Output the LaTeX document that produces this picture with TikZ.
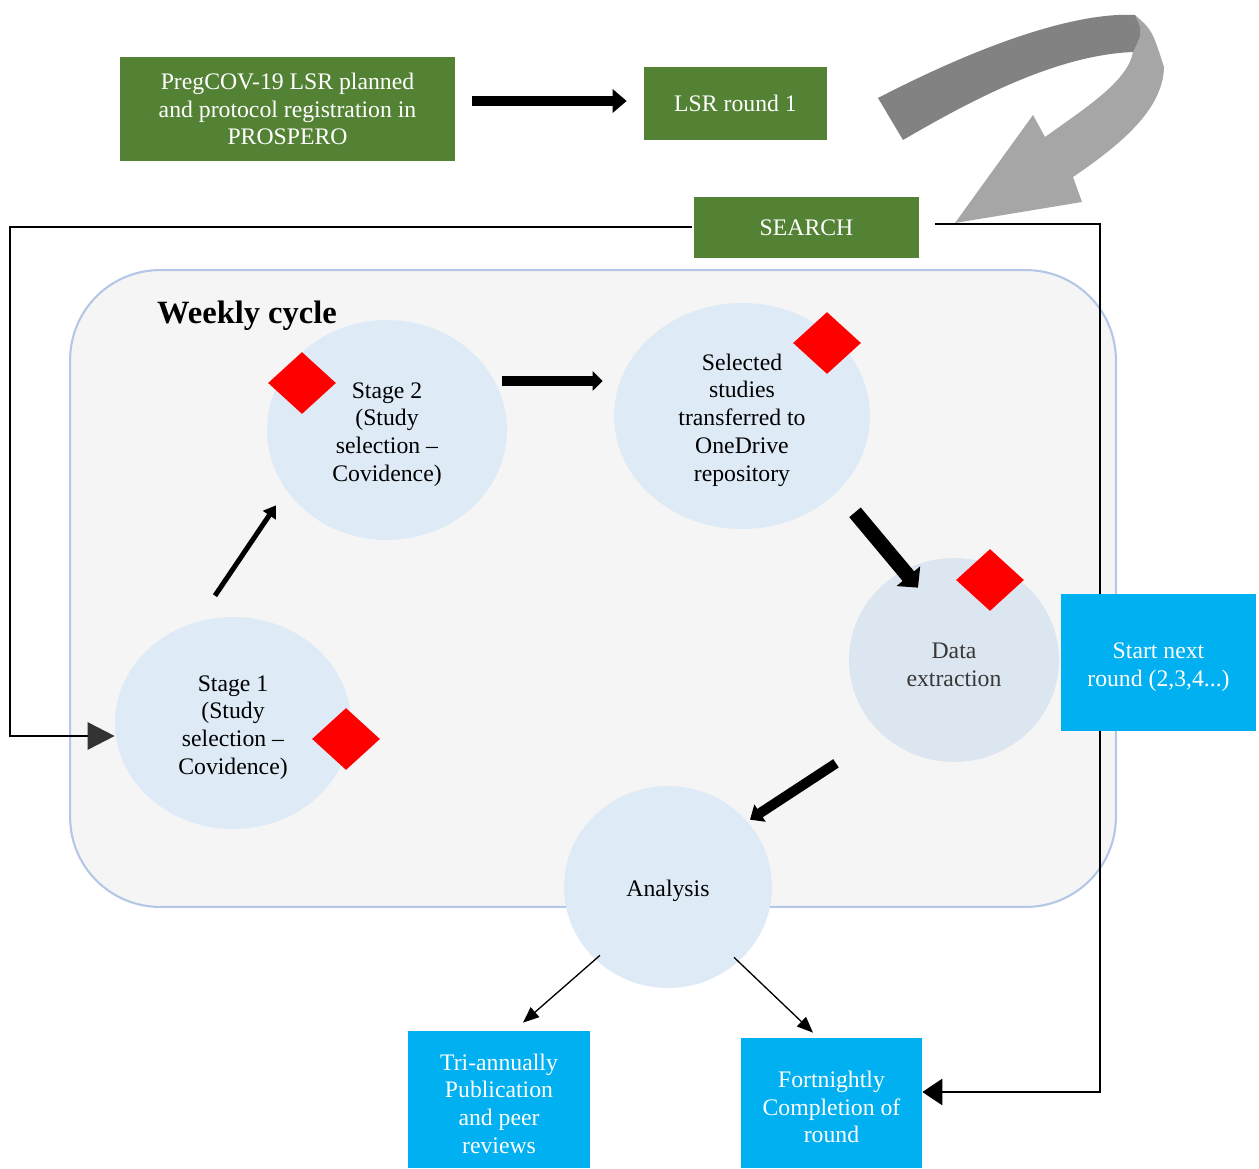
\documentclass[tikz,border=0pt]{standalone}
\usepackage{fontspec}
\setmainfont{Liberation Serif}
\usetikzlibrary{arrows.meta, shapes.geometric}

\definecolor{leafgreen}{HTML}{548235}
\definecolor{skyblue}{HTML}{00B0F0}
\definecolor{paleblue}{HTML}{DEEBF7}
\definecolor{palegray}{HTML}{DCE6F0}
\definecolor{cycleedge}{HTML}{B4C7E7}
\definecolor{cyclefill}{HTML}{F5F5F5}
\definecolor{darkfold}{HTML}{828282}
\definecolor{lightfold}{HTML}{A6A6A6}

\newcommand{\nodestrut}{\rule{0pt}{14pt}}

\tikzset{
  every node/.style={font=\fontsize{13.5}{15.8}\selectfont},
  greenbox/.style={rectangle, fill=leafgreen, text=white, align=center, inner sep=0pt},
  bluebox/.style={rectangle, fill=skyblue, text=white, align=center, inner sep=0pt},
  stagenode/.style={ellipse, fill=paleblue, align=center, inner sep=0pt},
  flag/.style={diamond, fill=red, inner sep=0pt, minimum width=1.36cm, minimum height=1.24cm},
  loopline/.style={line width=1.6pt},
  thinarrow/.style={line width=0.75pt, -{Triangle[length=0.32cm, width=0.26cm]}}
}

\begin{document}
\begin{tikzpicture}[x=0.02cm, y=-0.02cm]
\useasboundingbox (0,0) rectangle (1259,1169);

\node[greenbox, minimum width=6.7cm, minimum height=2.08cm] (plan) at (287.5,109) {PregCOV-19 LSR planned\\and protocol registration in\\PROSPERO};
\node[greenbox, minimum width=3.66cm, minimum height=1.46cm] (round1) at (735.5,103.5) {LSR round 1};
\node[greenbox, minimum width=4.5cm, minimum height=1.24cm] (search) at (806.5,227.5) {SEARCH};

\fill[lightfold] (1135,15) .. controls (1152,30) .. (1164,67) .. controls (1163,110) and (1120,145) .. (1073,177) -- (1082,202) -- (955,223) -- (1033,115) -- (1045,137) .. controls (1090,105) and (1128,80) .. (1133,52) .. controls (1143,32) .. (1135,15) -- cycle;
\fill[darkfold] (878,98) .. controls (990,40) and (1080,12) .. (1135,15) .. controls (1143,32) .. (1133,52) .. controls (1060,55) and (980,95) .. (903,140) -- cycle;

\draw[line width=0.2cm, -{Triangle[length=0.28cm, width=0.46cm]}] ([shift={(17,-8)}]plan.east) -- ([shift={(-17,-2.5)}]round1.west);

\node[rectangle, rounded corners=1.8cm, draw=cycleedge, line width=1.2pt, fill=cyclefill, minimum width=20.92cm, minimum height=12.74cm] (cycle) at (593,588.5) {};
\node[font=\fontsize{18.5}{22}\selectfont\bfseries] (title) at (247,316) {Weekly cycle};

\node[stagenode, minimum width=4.8cm, minimum height=4.4cm] (stage2) at (387,430) {\nodestrut Stage 2\\(Study\\selection --\\Covidence)};
\node[stagenode, minimum width=5.12cm, minimum height=4.52cm] (selected) at (742,416) {\nodestrut Selected\\studies\\transferred to\\OneDrive\\repository};
\node[stagenode, fill=palegray, text=black!78, minimum width=4.2cm, minimum height=4.08cm] (data) at (954,660) {\nodestrut Data\\extraction};
\node[stagenode, minimum width=4.16cm, minimum height=4.04cm] (analysis) at (668,887) {\nodestrut Analysis};
\node[stagenode, minimum width=4.72cm, minimum height=4.24cm] (stage1) at (233,723) {\nodestrut Stage 1\\(Study\\selection --\\Covidence)};

\node[flag] (flag2) at (302,383) {};
\node[flag] (flagsel) at (827,343) {};
\node[flag] (flagdata) at (990,580) {};
\node[flag] (flag1) at (346,739) {};

\draw[line width=0.1cm, -{Triangle[length=0.24cm, width=0.3cm]}] ([shift={(-18,-21)}]stage1.north) -- ([shift={(-111,-35)}]stage2.south);
\draw[line width=0.2cm, -{Triangle[length=0.2cm, width=0.38cm]}] ([shift={(-5,-49)}]stage2.east) -- ([shift={(-11,-35)}]selected.west);
\draw[line width=0.3cm, -{Triangle[length=0.3cm, width=0.6cm]}] ([shift={(113,-17)}]selected.south) -- ([shift={(-36,30)}]data.north);
\draw[line width=0.2cm, -{Triangle[length=0.24cm, width=0.4cm]}] ([shift={(-118,1)}]data.south) -- ([shift={(82,34)}]analysis.north);

\node[bluebox, minimum width=3.64cm, minimum height=2.74cm] (tri) at (499,1099.5) {\nodestrut Tri-annually\\Publication\\and peer\\reviews};
\node[bluebox, minimum width=3.62cm, minimum height=2.6cm] (fortnightly) at (831.5,1103) {\nodestrut Fortnightly\\Completion of\\round};

\draw[thinarrow] ([shift={(-68,-33)}]analysis.south) -- ([shift={(24,-8)}]tri.north);
\draw[thinarrow] ([shift={(66,-31)}]analysis.south) -- ([shift={(-18.5,-5)}]fortnightly.north);

\draw[loopline, -{Triangle[length=0.54cm, width=0.54cm, color=black!80]}] ([shift={(-2,-0.5)}]search.west) -| (10,736) -- ([shift={(0,13)}]stage1.west);
\draw[loopline, -{Triangle[length=0.4cm, width=0.52cm]}] ([shift={(16,-3.5)}]search.east) -| (1100,1092) -- ([shift={(0,-11)}]fortnightly.east);

\node[bluebox, minimum width=3.9cm, minimum height=2.74cm] (nextround) at (1158.5,662.5) {\nodestrut Start next\\round (2,3,4...)};

\end{tikzpicture}
\end{document}
